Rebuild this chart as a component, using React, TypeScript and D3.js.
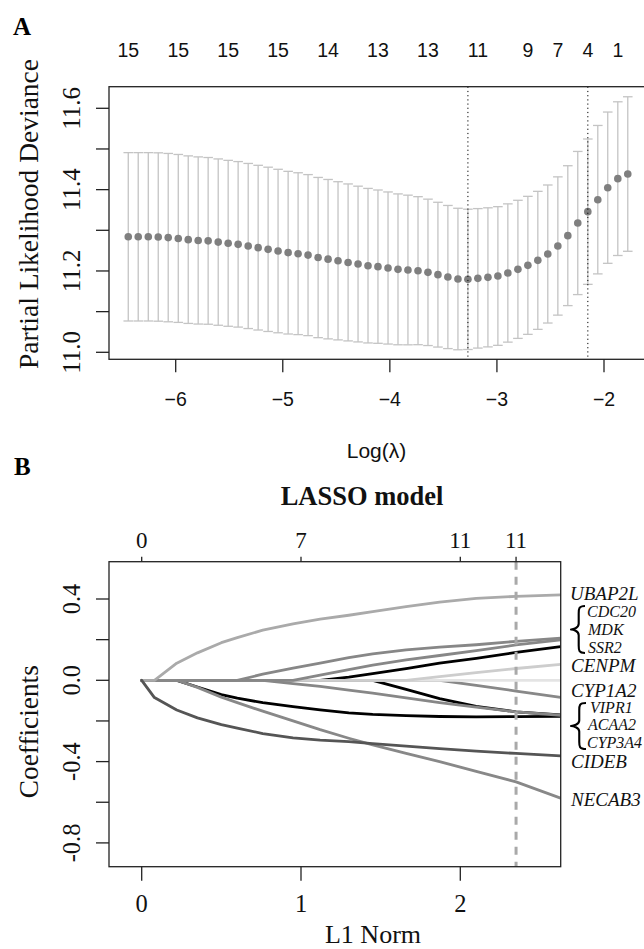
import React from 'react';
import * as d3 from 'd3';

// ---------- Panel A: cross-validated partial likelihood deviance ----------
const logLambda = [
  -6.443, -6.350, -6.256, -6.163, -6.070, -5.976, -5.883, -5.790, -5.697, -5.603,
  -5.510, -5.417, -5.323, -5.230, -5.137, -5.044, -4.950, -4.857, -4.764, -4.670,
  -4.577, -4.484, -4.390, -4.297, -4.204, -4.111, -4.017, -3.924, -3.831, -3.737,
  -3.644, -3.551, -3.458, -3.364, -3.271, -3.178, -3.084, -2.991, -2.898, -2.804,
  -2.711, -2.618, -2.525, -2.431, -2.338, -2.245, -2.151, -2.058, -1.965, -1.871,
  -1.778,
];
const cvMean = [
  11.284, 11.284, 11.284, 11.2835, 11.282, 11.280, 11.277, 11.275, 11.274, 11.271,
  11.268, 11.2655, 11.2614, 11.2573, 11.2532, 11.249, 11.245, 11.2425, 11.239, 11.233,
  11.229, 11.225, 11.221, 11.217, 11.213, 11.2106, 11.2073, 11.204, 11.2024, 11.2007,
  11.1966, 11.1909, 11.1851, 11.1802, 11.1794, 11.1819, 11.1843, 11.1876, 11.195, 11.204,
  11.2138, 11.2261, 11.2417, 11.2614, 11.2868, 11.3179, 11.3458, 11.3753, 11.4048, 11.427,
  11.4384,
];
const cvSE = [
  0.207, 0.207, 0.207, 0.207, 0.207, 0.2065, 0.206, 0.2055, 0.205, 0.2045,
  0.204, 0.2035, 0.203, 0.2025, 0.202, 0.201, 0.2, 0.199, 0.198, 0.197,
  0.196, 0.1945, 0.193, 0.1915, 0.19, 0.1885, 0.187, 0.1855, 0.184, 0.182,
  0.18, 0.178, 0.176, 0.174, 0.1725, 0.1715, 0.171, 0.1705, 0.17, 0.1698,
  0.1697, 0.1697, 0.1697, 0.17, 0.172, 0.176, 0.1787, 0.1825, 0.186, 0.189,
  0.19,
];
const nonzeroLabelIdx = [0, 5, 10, 15, 20, 25, 30, 35, 40, 43, 46, 49];
const nonzeroLabels = ['15', '15', '15', '15', '14', '13', '13', '11', '9', '7', '4', '1'];
const lambdaMinIdx = 34;
const lambda1seIdx = 46;
const xTicksA = [-6, -5, -4, -3, -2];
const yTicksA = [11.0, 11.1, 11.2, 11.3, 11.4, 11.5, 11.6];
const yTickLabelsA = [11.0, 11.2, 11.4, 11.6];

// ---------- Panel B: LASSO coefficient paths ----------
const l1Norm = [0, 0.08, 0.22, 0.35, 0.5, 0.6, 0.76, 0.95, 1.12, 1.3, 1.45, 1.66, 1.87, 2.1, 2.35, 2.63];
const coefZero = [0, 0, 0, 0, 0, 0, 0, 0, 0, 0, 0, 0, 0, 0, 0, 0];
const coefUBAP2L = [0, 0, 0.084, 0.135, 0.185, 0.21, 0.247, 0.278, 0.301, 0.32, 0.338, 0.362, 0.385, 0.403, 0.413, 0.42];
const coefCDC20 = [0, 0, 0, 0, 0, 0, 0.03, 0.06, 0.085, 0.112, 0.13, 0.15, 0.163, 0.175, 0.192, 0.207];
const coefMDK = [0, 0, 0, 0, 0, 0, 0, 0, 0.026, 0.053, 0.075, 0.1, 0.122, 0.146, 0.174, 0.199];
const coefSSR2 = [0, 0, 0, 0, 0, 0, 0, 0, 0, 0.016, 0.033, 0.058, 0.084, 0.108, 0.137, 0.166];
const coefCENPM = [0, 0, 0, 0, 0, 0, 0, 0, 0, 0, 0, 0, 0.018, 0.038, 0.058, 0.078];
const coefCYP1A2 = [0, 0, 0, 0, 0, 0, 0, 0, 0, 0, 0, 0, 0, -0.025, -0.053, -0.084];
const coefVIPR1 = [0, 0, 0, 0, 0, 0, 0, -0.016, -0.03, -0.048, -0.063, -0.087, -0.11, -0.132, -0.155, -0.172];
const coefACAA2 = [0, 0, 0, 0, 0, 0, 0, 0, 0, 0, 0, -0.045, -0.09, -0.128, -0.155, -0.17];
const coefCYP3A4 = [0, 0, 0, -0.033, -0.07, -0.088, -0.11, -0.13, -0.146, -0.16, -0.168, -0.174, -0.178, -0.18, -0.179, -0.177];
const coefCIDEB = [0, -0.085, -0.146, -0.185, -0.218, -0.235, -0.262, -0.283, -0.294, -0.302, -0.312, -0.324, -0.336, -0.348, -0.36, -0.372];
const coefNECAB3 = [0, 0, 0, -0.035, -0.083, -0.11, -0.152, -0.2, -0.243, -0.285, -0.318, -0.36, -0.4, -0.448, -0.5, -0.58];

const dfTickL1 = [0, 1, 2, 2.35];
const dfTickLabels = ['0', '7', '11', '11'];
const selectedL1 = 2.35;
const xTicksB = [0, 1, 2];
const yTicksB = [0.4, 0.2, 0, -0.2, -0.4, -0.6, -0.8];
const yTickLabelsB = ['0.4', '0.0', '-0.4', '-0.8'];
const yTickLabelValuesB = [0.4, 0, -0.4, -0.8];

const geneSingle = ['UBAP2L', 'CENPM', 'CYP1A2', 'CIDEB', 'NECAB3'];
const geneGroupUp = ['CDC20', 'MDK', 'SSR2'];
const geneGroupDown = ['VIPR1', 'ACAA2', 'CYP3A4'];

// ---------- layout / style ----------
const W = 644;
const H = 949;
const SERIF = '"Liberation Serif", "Times New Roman", serif';
const SANS = '"Liberation Sans", Arial, sans-serif';
const boxA = { left: 109, right: 647, top: 86.7, bottom: 359.3 };
const boxB = { left: 109, right: 560.7, top: 561.7, bottom: 866.7 };

const singleLabelX = [570, 571, 571, 571, 571];
const singleLabelY = [599.5, 671.7, 696.7, 768, 806];
const groupUpX = [587, 588, 588];
const groupUpY = [616.5, 634.5, 652.5];
const groupDownX = [590, 588, 587];
const groupDownY = [712.7, 730.3, 748.3];

function Brace({ x0, x1, y1, y2 }: { x0: number; x1: number; y1: number; y2: number }) {
  const xs = x0 + (x1 - x0) * 0.55;
  const ym = (y1 + y2) / 2;
  const h = y2 - y1;
  const d = [
    `M${x1},${y1}`,
    `C${xs},${y1} ${xs},${y1 + h * 0.06} ${xs},${y1 + h * 0.16}`,
    `L${xs},${ym - h * 0.12}`,
    `C${xs},${ym - h * 0.03} ${x0 + 2},${ym} ${x0},${ym}`,
    `C${x0 + 2},${ym} ${xs},${ym + h * 0.03} ${xs},${ym + h * 0.12}`,
    `L${xs},${y2 - h * 0.16}`,
    `C${xs},${y2 - h * 0.06} ${xs},${y2} ${x1},${y2}`,
  ].join(' ');
  return <path d={d} fill="none" stroke="#000" strokeWidth={2.1} strokeLinejoin="round" />;
}

export default function App() {
  const xA = d3.scaleLinear().domain([-6, -2]).range([175.7, 604]);
  const yA = d3.scaleLinear().domain([11.0, 11.6]).range([352.3, 108.3]);
  const xB = d3.scaleLinear().domain([0, 2]).range([141.7, 460.3]);
  const yB = d3.scaleLinear().domain([0, 0.4]).range([680.3, 599]);

  const series = [
    { name: 'CYP1A2', v: coefCYP1A2, c: '#888888' },
    { name: 'CYP3A4', v: coefCYP3A4, c: '#000000' },
    { name: 'ACAA2', v: coefACAA2, c: '#000000' },
    { name: 'SSR2', v: coefSSR2, c: '#000000' },
    { name: 'zero', v: coefZero, c: '#e4e4e4' },
    { name: 'CENPM', v: coefCENPM, c: '#cdcdcd' },
    { name: 'MDK', v: coefMDK, c: '#878787' },
    { name: 'VIPR1', v: coefVIPR1, c: '#878787' },
    { name: 'CDC20', v: coefCDC20, c: '#878787' },
    { name: 'NECAB3', v: coefNECAB3, c: '#888888' },
    { name: 'UBAP2L', v: coefUBAP2L, c: '#aaaaaa' },
    { name: 'CIDEB', v: coefCIDEB, c: '#555555' },
  ];
  const line = d3
    .line<number>()
    .x((_, i) => xB(l1Norm[i]))
    .y((d) => yB(d));

  const capHalf = 4.8;

  return (
    <svg
      width={W}
      height={H}
      viewBox={`0 0 ${W} ${H}`}
      style={{ position: 'absolute', left: 0, top: 0, background: '#fff' }}
    >
      <defs>
        <clipPath id="clipB">
          <rect x={boxB.left} y={boxB.top} width={boxB.right - boxB.left} height={boxB.bottom - boxB.top} />
        </clipPath>
      </defs>
      <rect x={0} y={0} width={W} height={H} fill="#fff" />

      {/* ===== Panel A ===== */}
      <text x={13} y={35} fontFamily={SERIF} fontWeight="bold" fontSize={25}>A</text>

      {nonzeroLabelIdx.map((k, i) => (
        <text key={'nz' + i} x={xA(logLambda[k])} y={56.5} textAnchor="middle" fontFamily={SANS} fontSize={19.5} fill="#111">
          {nonzeroLabels[i]}
        </text>
      ))}

      {/* error bars */}
      <g stroke="#c4c4c4" strokeWidth={1.3} fill="none">
        {logLambda.map((l, i) => {
          const x = xA(l);
          const yu = yA(cvMean[i] + cvSE[i]);
          const yl = yA(cvMean[i] - cvSE[i]);
          return (
            <g key={'eb' + i}>
              <line x1={x} x2={x} y1={yu} y2={yl} />
              <line x1={x - capHalf} x2={x + capHalf} y1={yu} y2={yu} />
              <line x1={x - capHalf} x2={x + capHalf} y1={yl} y2={yl} />
            </g>
          );
        })}
      </g>
      {logLambda.map((l, i) => (
        <circle key={'pt' + i} cx={xA(l)} cy={yA(cvMean[i])} r={3.8} fill="#7f7f7f" />
      ))}
      {[lambdaMinIdx, lambda1seIdx].map((k) => (
        <line
          key={'vl' + k}
          x1={xA(logLambda[k])}
          x2={xA(logLambda[k])}
          y1={boxA.top}
          y2={boxA.bottom}
          stroke="#000"
          strokeWidth={1}
          strokeDasharray="1.2,3"
        />
      ))}
      <rect
        x={boxA.left}
        y={boxA.top}
        width={boxA.right - boxA.left}
        height={boxA.bottom - boxA.top}
        fill="none"
        stroke="#222"
        strokeWidth={1.3}
      />
      {xTicksA.map((t) => (
        <g key={'xa' + t}>
          <line x1={xA(t)} x2={xA(t)} y1={boxA.bottom} y2={boxA.bottom + 13} stroke="#222" strokeWidth={1.3} />
          <text x={xA(t)} y={405.5} textAnchor="middle" fontFamily={SANS} fontSize={19.5} fill="#111">
            {'\u2212' + Math.abs(t)}
          </text>
        </g>
      ))}
      {yTicksA.map((t) => (
        <line key={'ya' + t} x1={boxA.left - 13} x2={boxA.left} y1={yA(t)} y2={yA(t)} stroke="#222" strokeWidth={1.3} />
      ))}
      {yTickLabelsA.map((t) => (
        <text
          key={'yal' + t}
          transform={`translate(80,${yA(t)}) rotate(-90)`}
          textAnchor="middle"
          fontFamily={SERIF}
          fontSize={25}
          fill="#111"
        >
          {t.toFixed(1)}
        </text>
      ))}
      <text x={376.5} y={458} textAnchor="middle" fontFamily={SANS} fontSize={21} fill="#111">
        Log(λ)
      </text>
      <text transform="translate(38,214) rotate(-90)" textAnchor="middle" fontFamily={SERIF} fontSize={27.5} fill="#111">
        Partial Likelihood Deviance
      </text>

      {/* ===== Panel B ===== */}
      <text x={14} y={475} fontFamily={SERIF} fontWeight="bold" fontSize={25}>B</text>
      <text x={362} y={505} textAnchor="middle" fontFamily={SERIF} fontWeight="bold" fontSize={26.5} fill="#111">
        LASSO model
      </text>
      {dfTickL1.map((t, i) => (
        <g key={'df' + i}>
          <line x1={xB(t)} x2={xB(t)} y1={boxB.top} y2={boxB.top - 5} stroke="#222" strokeWidth={1.3} />
          <text x={xB(t)} y={548.3} textAnchor="middle" fontFamily={SERIF} fontSize={23} fill="#111">
            {dfTickLabels[i]}
          </text>
        </g>
      ))}

      <g clipPath="url(#clipB)">
        {series.map((s) => (
          <path
            key={s.name}
            d={line(s.v) || ''}
            fill="none"
            stroke={s.c}
            strokeWidth={2.8}
            strokeLinejoin="round"
            strokeLinecap="round"
          />
        ))}
        <line
          x1={xB(selectedL1)}
          x2={xB(selectedL1)}
          y1={boxB.top}
          y2={boxB.bottom}
          stroke="#a9a9a9"
          strokeWidth={3}
          strokeDasharray="8,7"
        />
      </g>
      <rect
        x={boxB.left}
        y={boxB.top}
        width={boxB.right - boxB.left}
        height={boxB.bottom - boxB.top}
        fill="none"
        stroke="#222"
        strokeWidth={1.3}
      />
      {xTicksB.map((t) => (
        <g key={'xb' + t}>
          <line x1={xB(t)} x2={xB(t)} y1={boxB.bottom} y2={boxB.bottom + 14} stroke="#222" strokeWidth={1.3} />
          <text x={xB(t)} y={911.7} textAnchor="middle" fontFamily={SERIF} fontSize={24.5} fill="#111">
            {String(t)}
          </text>
        </g>
      ))}
      {yTicksB.map((t) => (
        <line key={'yb' + t} x1={boxB.left - 13} x2={boxB.left} y1={yB(t)} y2={yB(t)} stroke="#222" strokeWidth={1.3} />
      ))}
      {yTickLabelValuesB.map((t, i) => (
        <text
          key={'ybl' + t}
          transform={`translate(80,${yB(t)}) rotate(-90)`}
          textAnchor="middle"
          fontFamily={SERIF}
          fontSize={24.5}
          fill="#111"
        >
          {yTickLabelsB[i]}
        </text>
      ))}
      <text x={373} y={943} textAnchor="middle" fontFamily={SERIF} fontSize={26} fill="#111">
        L1 Norm
      </text>
      <text transform="translate(38,731.7) rotate(-90)" textAnchor="middle" fontFamily={SERIF} fontSize={27.3} fill="#111">
        Coefficients
      </text>

      {/* gene labels */}
      {geneSingle.map((g, i) => (
        <text key={g} x={singleLabelX[i]} y={singleLabelY[i]} fontFamily={SERIF} fontStyle="italic" fontSize={19} fill="#111">
          {g}
        </text>
      ))}
      {geneGroupUp.map((g, i) => (
        <text key={g} x={groupUpX[i]} y={groupUpY[i]} fontFamily={SERIF} fontStyle="italic" fontSize={16} fill="#111">
          {g}
        </text>
      ))}
      {geneGroupDown.map((g, i) => (
        <text key={g} x={groupDownX[i]} y={groupDownY[i]} fontFamily={SERIF} fontStyle="italic" fontSize={16} fill="#111">
          {g}
        </text>
      ))}
      <Brace x0={571} x1={585} y1={606} y2={653} />
      <Brace x0={571} x1={586} y1={703} y2={749} />
    </svg>
  );
}
